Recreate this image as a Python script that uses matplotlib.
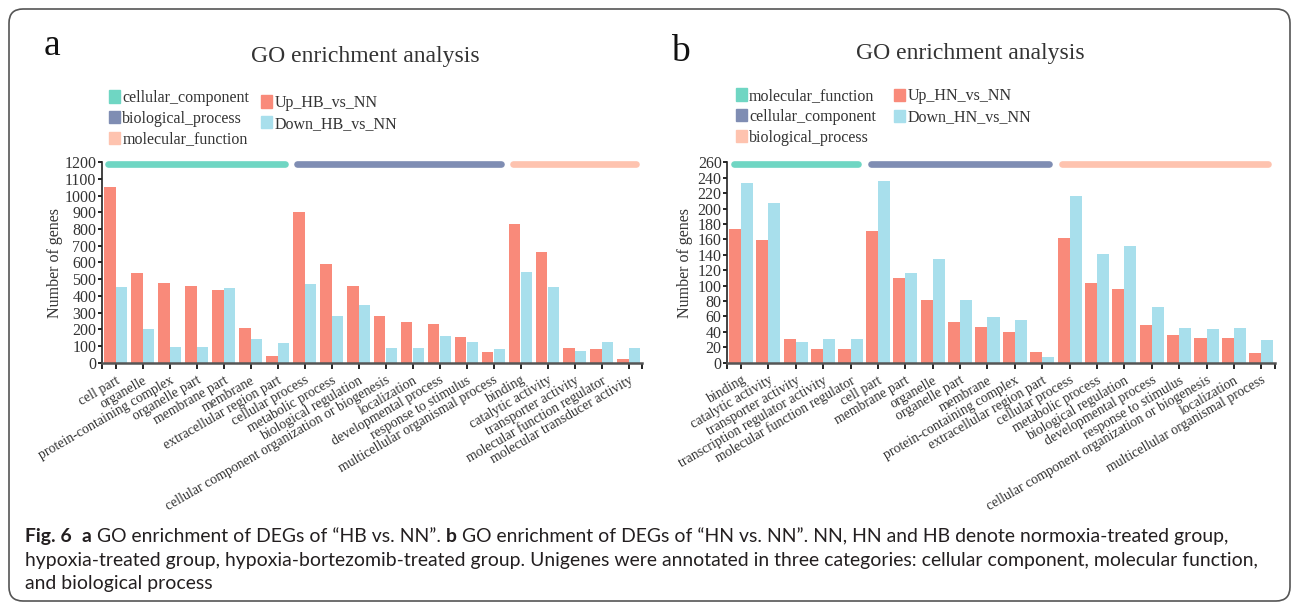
import numpy as np
import matplotlib
matplotlib.use("Agg")
import matplotlib.pyplot as plt
from matplotlib.patches import Patch, FancyBboxPatch

W, H = 1292, 603
plt.rcParams["font.family"] = ["Liberation Serif", "DejaVu Serif"]

#------------------panel_a_HB_vs_NN------------------#
terms_a = ["cell part", "organelle", "protein-containing complex", "organelle part",
           "membrane part", "membrane", "extracellular region part",
           "cellular process", "metabolic process", "biological regulation",
           "cellular component organization or biogenesis", "localization",
           "developmental process", "response to stimulus",
           "multicellular organismal process",
           "binding", "catalytic activity", "transporter activity",
           "molecular function regulator", "molecular transducer activity"]
up_a = [1050, 538, 478, 460, 436, 208, 40, 905, 592, 460, 280, 244, 232, 154, 64,
        832, 664, 88, 82, 22]
down_a = [452, 202, 94, 94, 448, 142, 118, 472, 280, 346, 88, 88, 160, 124, 82,
          544, 454, 70, 124, 88]
groups_a = ["cellular_component", "biological_process", "molecular_function"]
sizes_a = [7, 8, 5]
series_a = ["Up_HB_vs_NN", "Down_HB_vs_NN"]

#------------------panel_b_HN_vs_NN------------------#
terms_b = ["binding", "catalytic activity", "transporter activity",
           "transcription regulator activity", "molecular function regulator",
           "cell part", "membrane part", "organelle", "organelle part", "membrane",
           "protein-containing complex", "extracellular region part",
           "cellular process", "metabolic process", "biological regulation",
           "developmental process", "response to stimulus",
           "cellular component organization or biogenesis", "localization",
           "multicellular organismal process"]
up_b = [173, 159, 31, 18, 18, 171, 110, 81, 53, 46, 40, 14, 162, 103, 96, 49, 36, 32, 32, 13]
down_b = [233, 207, 27, 31, 31, 236, 116, 134, 81, 59, 55, 7, 216, 141, 151, 72, 45, 44, 45, 29]
groups_b = ["molecular_function", "cellular_component", "biological_process"]
sizes_b = [5, 7, 8]
series_b = ["Up_HN_vs_NN", "Down_HN_vs_NN"]

c_up = "#F98A7A"
c_down = "#A8DFEC"
c_groups = ["#6FD6C3", "#7F8DB3", "#FEC3AF"]
txt = "#333333"

fig = plt.figure(figsize=(W / 100, H / 100), dpi=100)


def fx(px):
    return px / W


def fy(py):
    return 1 - py / H


def panel(left, right, terms, up, down, groups, sizes, series, ymax, ystep,
          letter, letter_xy, title_xy, leg1_xy, leg2_xy, ylab_x):
    ax = fig.add_axes([fx(left), fy(362.7), fx(right - left), (362.7 - 162.3) / H])
    n = len(terms)
    x = np.arange(n)
    w = 0.44
    ax.bar(x - w / 2, up, w, color=c_up, label=series[0])
    ax.bar(x + w / 2, down, w, color=c_down, label=series[1])

    ax.set_xlim(-0.5, n - 0.5)
    ax.set_ylim(0, ymax)
    ax.set_yticks(np.arange(0, ymax + 1, ystep))
    ax.set_xticks(x)
    ax.set_xticklabels(terms, rotation=30, ha="right", va="top",
                       rotation_mode="anchor", fontsize=10, color=txt)
    ax.set_xticks([-0.5, n - 0.5], minor=True)
    ax.tick_params(axis="y", labelsize=11.5, labelcolor=txt, length=3, width=1.2, pad=1)
    ax.tick_params(axis="x", which="both", length=4, width=1.2, pad=4)
    for s in ["top", "right"]:
        ax.spines[s].set_visible(False)
    ax.spines["left"].set_color("#222222")
    ax.spines["left"].set_linewidth(1.2)
    ax.spines["bottom"].set_color("#555555")
    ax.spines["bottom"].set_linewidth(1.8)

    ax.set_ylabel("Number of genes", fontsize=11.5, color=txt)
    ax.yaxis.set_label_coords(ylab_x, 0.5)

    # category strips on top
    start = 0
    for g, k, c in zip(groups, sizes, c_groups):
        ax.plot([start - 0.5 + 0.24, start + k - 0.5 - 0.24], [ymax * 0.992] * 2,
                lw=4.8, color=c, solid_capstyle="round", clip_on=False)
        start += k

    h1 = [Patch(color=c) for c in c_groups]
    h2 = [Patch(color=c_up), Patch(color=c_down)]
    kw = dict(loc="upper left", frameon=False, fontsize=11.5, handlelength=0.7,
              handleheight=0.8, handletextpad=0.15, labelspacing=0.3,
              borderpad=0, borderaxespad=0, labelcolor=txt)
    fig.legend(h1, groups, bbox_to_anchor=(fx(leg1_xy[0]), fy(leg1_xy[1])), **kw)
    fig.legend(h2, series, bbox_to_anchor=(fx(leg2_xy[0]), fy(leg2_xy[1])), **kw)

    fig.text(fx(title_xy[0]), fy(title_xy[1]), "GO enrichment analysis",
             ha="center", va="baseline", fontsize=17, color=txt)
    fig.text(fx(letter_xy[0]), fy(letter_xy[1]), letter,
             ha="left", va="baseline", fontsize=27, color="#111111")
    return ax


panel(102, 642, terms_a, up_a, down_a, groups_a, sizes_a, series_a, 1200, 100,
      "a", (44, 55), (365, 62), (108.6, 90), (261, 95), -0.072)
panel(727.3, 1275, terms_b, up_b, down_b, groups_b, sizes_b, series_b, 260, 20,
      "b", (671, 61), (970, 58.5), (735.5, 88), (893.8, 88.5), -0.063)

#------------------frame_and_caption------------------#
frame = FancyBboxPatch((9, 2), 1281, 592, boxstyle="round,pad=0,rounding_size=14",
                       transform=None, fill=False, ec="#555555", lw=1.2)
fig.add_artist(frame)

cap_font = ["Lato", "DejaVu Sans"]
cap_color = "#231F20"
caption = [
    [("Fig. 6", "bold"), ("  ", "normal"), ("a", "bold"),
     (" GO enrichment of DEGs of \u201cHB vs. NN\u201d. ", "normal"), ("b", "bold"),
     (" GO enrichment of DEGs of \u201cHN vs. NN\u201d. NN, HN and HB denote normoxia-treated group,",
      "normal")],
    [("hypoxia-treated group, hypoxia-bortezomib-treated group. Unigenes were annotated "
      "in three categories: cellular component, molecular function,", "normal")],
    [("and biological process", "normal")],
]
baselines = [542, 566, 589]

renderer = fig.canvas.get_renderer()
probe = fig.text(0, 0, caption[1][0][0], fontsize=10, family=cap_font)
cap_size = 10 * 1236 / probe.get_window_extent(renderer).width
probe.remove()

for line, yb in zip(caption, baselines):
    xp = 25
    for s, wt in line:
        t = fig.text(fx(xp), fy(yb), s, fontsize=cap_size, weight=wt,
                     family=cap_font, color=cap_color, va="baseline")
        xp += t.get_window_extent(renderer).width

fig.savefig("out.png", dpi=100)
